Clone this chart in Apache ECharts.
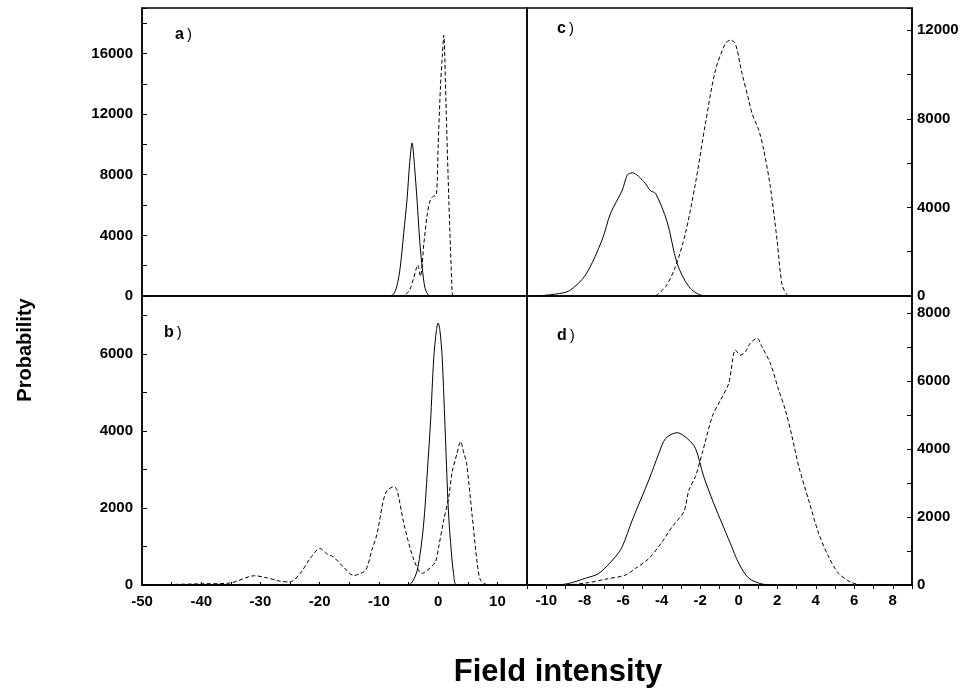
<!DOCTYPE html>
<html><head><meta charset="utf-8">
<script src="https://cdn.jsdelivr.net/npm/echarts@6/dist/echarts.min.js"></script>
<style>html,body{margin:0;padding:0;background:#fff}#c{width:964px;height:697px}</style>
</head><body><div id="c"></div>
<script>
// Panel a (x: field intensity, y: probability)
const aSolidX = [-50, -8.5, -7.6, -7, -6.4, -5.8, -5.25, -4.8, -4.4, -4.0, -3.56, -3.1, -2.7, -2.2, -1.6, -1, 15];
const aSolidY = [0, 0, 100, 600, 1900, 4200, 6400, 8800, 10100, 8600, 6300, 3600, 1900, 500, 50, 0, 0];
const aDashX = [-6.5, -5.5, -4.8, -4.2, -3.7, -3.45, -3.0, -2.4, -1.8, -1.3, -0.9, -0.3, 0.0, 0.4, 0.7, 0.95, 1.3, 1.8, 2.35, 2.45];
const aDashY = [0, 100, 400, 1100, 1800, 2050, 1300, 3500, 5500, 6350, 6550, 6700, 9900, 13900, 15800, 17200, 13000, 6350, 300, 0];
// Panel b
const bSolidX = [-50, -5.5, -4.5, -3.5, -2.5, -1.8, -1.3, -0.74, -0.3, 0.0, 0.3, 0.68, 1.24, 1.7, 2.1, 2.6, 3.2, 15];
const bSolidY = [0, 0, 50, 400, 1500, 3000, 4200, 5900, 6600, 6800, 6600, 5900, 3800, 2000, 1100, 300, 0, 0];
const bDashX = [-50, -40, -35.2, -31, -29, -26.7, -25, -23.3, -21.6, -19.95, -18.8, -17.7, -16, -14.3, -12.3, -11.2, -10.3, -8.9, -7.5, -6.95, -5.8, -4.1, -2.7, -1.86, -0.46, 0.1, 0.95, 1.8, 2.37, 3.2, 3.78, 4.34, 4.8, 5.76, 6.6, 7.17, 8.3];
const bDashY = [0, 30, 50, 240, 190, 100, 80, 300, 690, 950, 810, 730, 470, 250, 380, 900, 1340, 2380, 2550, 2470, 1600, 650, 300, 380, 600, 1000, 1690, 2290, 2940, 3420, 3720, 3420, 3160, 1770, 560, 120, 0];
// Panel c
const cSolidX = [-11, -10.7, -9.5, -8.8, -7.96, -7.1, -6.66, -6.05, -5.79, -5.53, -4.93, -4.58, -4.32, -3.72, -3.2, -2.59, -1.9, -0.87, 9];
const cSolidY = [0, 0, 90, 240, 950, 2530, 3730, 4780, 5460, 5560, 5160, 4750, 4630, 3350, 1470, 420, 30, 0, 0];
const cDashX = [-4.32, -3.8, -3.29, -2.77, -2.25, -1.73, -1.21, -0.69, -0.44, -0.18, 0.17, 0.52, 0.69, 1.04, 1.3, 1.64, 1.99, 2.25, 2.5];
const cDashY = [0, 420, 1320, 2830, 5080, 7790, 10190, 11400, 11550, 11400, 10040, 8840, 8240, 7490, 6590, 4930, 2530, 500, 50];
// Panel d
const dSolidX = [-11, -9.5, -8.8, -7.96, -7.27, -6.41, -6.05, -5.53, -4.67, -4.15, -3.8, -3.2, -2.68, -2.25, -1.82, -1.3, -0.87, -0.44, 0.0, 0.52, 1.2, 1.9, 9];
const dSolidY = [0, 0, 50, 200, 340, 830, 1130, 1910, 3090, 3870, 4310, 4480, 4310, 4020, 3190, 2400, 1810, 1230, 640, 200, 30, 0, 0];
const dDashX = [-11, -9, -7.8, -6.93, -5.9, -5.36, -4.67, -3.98, -3.46, -2.85, -2.59, -2.25, -1.9, -1.38, -0.95, -0.52, -0.17, 0.09, 0.35, 0.6, 0.95, 1.2, 1.64, 2.07, 2.42, 2.77, 3.12, 3.63, 4.15, 4.67, 5.19, 5.88, 6.57, 9];
const dDashY = [0, 0, 70, 170, 290, 490, 780, 1270, 1710, 2160, 2790, 3190, 3870, 4950, 5440, 5930, 6910, 6760, 6860, 7110, 7260, 7010, 6520, 5740, 5150, 4360, 3480, 2500, 1520, 830, 340, 70, 0, 0];

const panelLabels = ['a', 'b', 'c', 'd'];
const xTitle = 'Field intensity';
const yTitle = 'Probability';

const FONT = "'Liberation Sans', Arial, sans-serif";
const zip = (xs, ys) => xs.map((x, i) => [x, ys[i]]);
const every = n => v => (Math.abs(v % n) < 1e-9 ? String(v) : '');
const lbl = (fmt, margin) => ({
  show: true, formatter: fmt, color: '#000', fontWeight: 'bold', fontSize: 15, fontFamily: FONT, margin: margin
});
const lineSt = { color: '#000', width: 1.5 };
const tick = (inside, len) => ({ show: true, inside: inside, length: len, lineStyle: { color: '#000', width: 1 } });

const grids = [
  { left: 142, top: 8, width: 385, height: 288 },
  { left: 142, top: 296, width: 385, height: 289 },
  { left: 527, top: 8, width: 385, height: 288 },
  { left: 527, top: 296, width: 385, height: 289 }
].map(g => Object.assign(g, { show: true, borderColor: '#000', borderWidth: 1.5, backgroundColor: 'transparent' }));

const hiddenX = (gi, min, max) => ({
  gridIndex: gi, type: 'value', min: min, max: max,
  axisLine: { show: false, onZero: false }, axisTick: { show: false }, axisLabel: { show: false }, splitLine: { show: false }
});

const option = {
  animation: false,
  backgroundColor: '#fff',
  grid: grids,
  xAxis: [
    hiddenX(0, -50, 15),
    { gridIndex: 1, type: 'value', min: -50, max: 15, interval: 5,
      axisLine: { show: true, onZero: false, lineStyle: lineSt }, axisTick: tick(true, 3),
      axisLabel: lbl(every(10), 9), splitLine: { show: false } },
    hiddenX(2, -11, 9),
    { gridIndex: 3, type: 'value', min: -11, max: 9, interval: 1,
      axisLine: { show: true, onZero: false, lineStyle: lineSt }, axisTick: tick(false, 4),
      axisLabel: lbl(every(2), 8), splitLine: { show: false } }
  ],
  yAxis: [
    { gridIndex: 0, type: 'value', position: 'left', min: 0, max: 19000, interval: 2000,
      axisLine: { show: true, onZero: false, lineStyle: lineSt }, axisTick: tick(true, 5),
      axisLabel: lbl(every(4000), 9), splitLine: { show: false } },
    { gridIndex: 1, type: 'value', position: 'left', min: 0, max: 7500, interval: 1000,
      axisLine: { show: true, onZero: false, lineStyle: lineSt }, axisTick: tick(true, 5),
      axisLabel: lbl(every(2000), 9), splitLine: { show: false } },
    { gridIndex: 2, type: 'value', position: 'right', min: 0, max: 13000, interval: 2000,
      axisLine: { show: true, onZero: false, lineStyle: lineSt }, axisTick: tick(true, 5),
      axisLabel: lbl(every(4000), 5), splitLine: { show: false } },
    { gridIndex: 3, type: 'value', position: 'right', min: 0, max: 8500, interval: 1000,
      axisLine: { show: true, onZero: false, lineStyle: lineSt }, axisTick: tick(true, 5),
      axisLabel: lbl(every(2000), 5), splitLine: { show: false } }
  ],
  series: [
    [0, aSolidX, aSolidY, 'solid'], [0, aDashX, aDashY, 'dash'],
    [1, bSolidX, bSolidY, 'solid'], [1, bDashX, bDashY, 'dash'],
    [2, cSolidX, cSolidY, 'solid'], [2, cDashX, cDashY, 'dash'],
    [3, dSolidX, dSolidY, 'solid'], [3, dDashX, dDashY, 'dash']
  ].map(([gi, xs, ys, kind]) => ({
    type: 'line', xAxisIndex: gi, yAxisIndex: gi, data: zip(xs, ys),
    showSymbol: false, smooth: 0.3, clip: true,
    lineStyle: { color: '#000', width: 1, type: kind === 'dash' ? [4, 2.5] : 'solid' }
  })),
  graphic: [
    { type: 'text', x: 25, y: 350, rotation: Math.PI / 2,
      style: { text: yTitle, font: 'bold 20px ' + FONT, fill: '#000', align: 'center', verticalAlign: 'middle', textAlign: 'center', textVerticalAlign: 'middle' } },
    { type: 'text', x: 558, y: 672,
      style: { text: xTitle, font: 'bold 31px ' + FONT, fill: '#000', align: 'center', verticalAlign: 'middle', textAlign: 'center', textVerticalAlign: 'middle' } }
  ].concat([[175, 35], [164, 333], [557, 29], [557, 336]].map(([x, y], i) => ({
    type: 'text', x: x, y: y,
    style: {
      text: '{b|' + panelLabels[i] + '}{p|)}', verticalAlign: 'middle', textVerticalAlign: 'middle', fill: '#000',
      rich: { b: { font: 'bold 16px ' + FONT, fill: '#000' }, p: { font: '15px ' + FONT, fill: '#000', padding: [0, 0, 0, 3] } }
    }
  })))
};
echarts.init(document.getElementById('c')).setOption(option);
</script></body></html>
